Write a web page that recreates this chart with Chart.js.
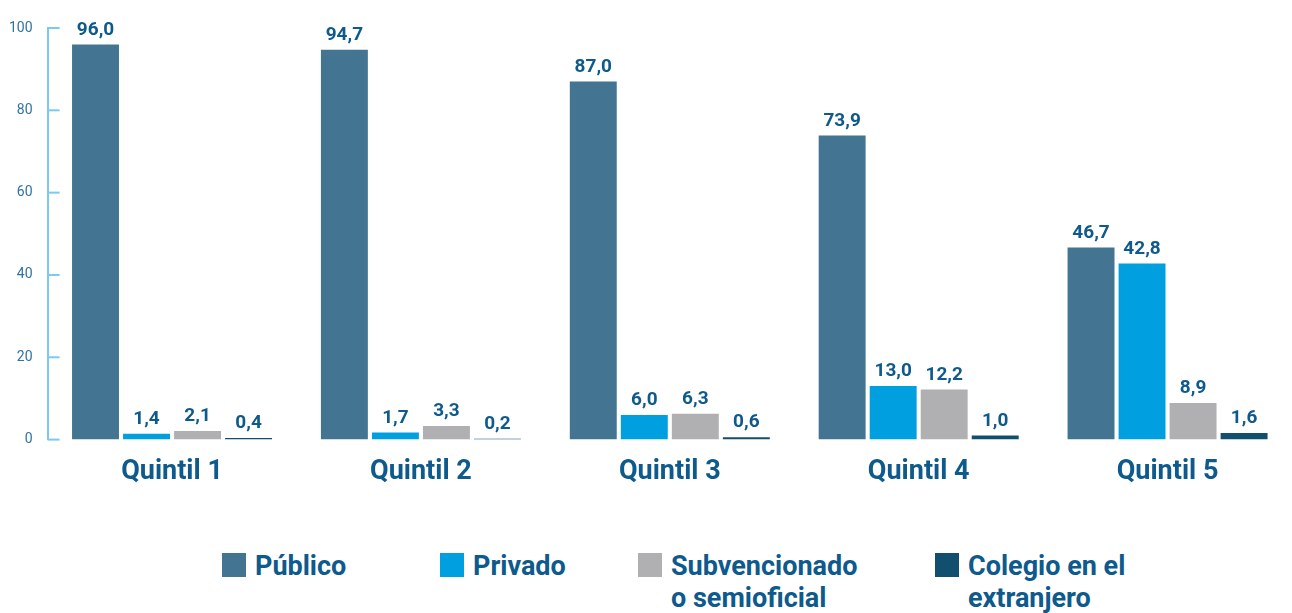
<!DOCTYPE html>
<html lang="es">
<head>
<meta charset="UTF-8">
<title>Tipo de establecimiento por quintil</title>
<script src="https://cdn.jsdelivr.net/npm/chart.js@4.4.1/dist/chart.umd.min.js"></script>
<style>
    body {
        margin: 0;
        background: #fff;
        font-family: Roboto, Arial, sans-serif;
    }
    .wrap {
        position: relative;
        width: 1292px;
        height: 613px;
        overflow: hidden;
    }
    #chart {
        position: absolute;
        left: 0;
        top: 0;
    }
    .legend {
        position: absolute;
        top: 553px;
        left: 222px;
        display: flex;
    }
    .legend .item {
        display: flex;
        align-items: flex-start;
    }
    .legend .item:nth-child(1) { width: 218px; }
    .legend .item:nth-child(2) { width: 198px; }
    .legend .item:nth-child(3) { width: 297px; }
    .legend .swatch {
        width: 24px;
        height: 24px;
        flex: none;
        margin-right: 9px;
    }
    .legend .text {
        font: bold 27px Roboto, Arial, sans-serif;
        color: #0e5a8c;
        line-height: 32px;
        margin-top: -3px;
    }
</style>
</head>
<body>
<div class="wrap">
    <canvas id="chart" width="1292" height="496"></canvas>
    <div class="legend" id="legend"></div>
</div>
<script>
    const quintiles = ['Quintil 1', 'Quintil 2', 'Quintil 3', 'Quintil 4', 'Quintil 5'];
    const seriesNames = [['Público'], ['Privado'], ['Subvencionado', 'o semioficial'], ['Colegio en el', 'extranjero']];
    const publico = [96.0, 94.7, 87.0, 73.9, 46.7];
    const privado = [1.4, 1.7, 6.0, 13.0, 42.8];
    const subvencionado = [2.1, 3.3, 6.3, 12.2, 8.9];
    const extranjero = [0.4, 0.2, 0.6, 1.0, 1.6];
    const yTicks = [0, 20, 40, 60, 80, 100];

    const colors = ['#437593', '#00a0e0', '#b0b0b2', '#124e6d'];
    const labelColor = '#0e5a8c';

    const seriesValues = [publico, privado, subvencionado, extranjero];

    // value labels above each bar, decimal comma
    const valueLabels = {
        id: 'valueLabels',
        afterDatasetsDraw(chart) {
            const ctx = chart.ctx;
            ctx.save();
            ctx.font = 'bold 19px Roboto, Arial, sans-serif';
            ctx.fillStyle = labelColor;
            ctx.textAlign = 'center';
            ctx.textBaseline = 'bottom';
            chart.data.datasets.forEach((ds, i) => {
                chart.getDatasetMeta(i).data.forEach((bar, j) => {
                    const txt = ds.data[j].toFixed(1).replace('.', ',');
                    ctx.fillText(txt, bar.x, bar.y - 5);
                });
            });
            ctx.restore();
        }
    };

    // short tick marks pointing right from the y axis line
    const axisTicks = {
        id: 'axisTicks',
        afterDraw(chart) {
            const y = chart.scales.y;
            const ctx = chart.ctx;
            ctx.save();
            ctx.strokeStyle = '#7cc8ef';
            ctx.lineWidth = 2;
            yTicks.forEach(v => {
                const py = y.getPixelForValue(v);
                ctx.beginPath();
                ctx.moveTo(y.right, py);
                ctx.lineTo(y.right + 12, py);
                ctx.stroke();
            });
            ctx.restore();
        }
    };

    new Chart(document.getElementById('chart'), {
        type: 'bar',
        data: {
            labels: quintiles,
            datasets: seriesValues.map((vals, i) => ({
                label: seriesNames[i].join(' '),
                data: vals,
                backgroundColor: colors[i],
                borderWidth: 0,
                categoryPercentage: 0.82,
                barPercentage: 0.92
            }))
        },
        options: {
            responsive: false,
            animation: false,
            layout: {
                padding: { top: 28, left: 2, right: 0, bottom: 0 }
            },
            plugins: {
                legend: { display: false },
                tooltip: { enabled: false }
            },
            scales: {
                x: {
                    grid: { display: false },
                    border: { display: false },
                    ticks: {
                        color: labelColor,
                        font: { family: 'Roboto, Arial, sans-serif', size: 27, weight: 'bold' },
                        padding: 8
                    }
                },
                y: {
                    min: 0,
                    max: 100,
                    afterBuildTicks(scale) {
                        scale.ticks = yTicks.map(v => ({ value: v }));
                    },
                    grid: { display: false },
                    border: { display: true, color: '#7cc8ef', width: 2 },
                    ticks: {
                        color: '#2f73a0',
                        font: { family: 'Roboto, Arial, sans-serif', size: 14 },
                        padding: 7
                    }
                }
            }
        },
        plugins: [valueLabels, axisTicks]
    });

    // legend below the chart
    const legend = document.getElementById('legend');
    seriesNames.forEach((lines, i) => {
        const item = document.createElement('div');
        item.className = 'item';
        const sw = document.createElement('div');
        sw.className = 'swatch';
        sw.style.background = colors[i];
        const txt = document.createElement('div');
        txt.className = 'text';
        txt.innerHTML = lines.join('<br>');
        item.appendChild(sw);
        item.appendChild(txt);
        legend.appendChild(item);
    });
</script>
</body>
</html>
